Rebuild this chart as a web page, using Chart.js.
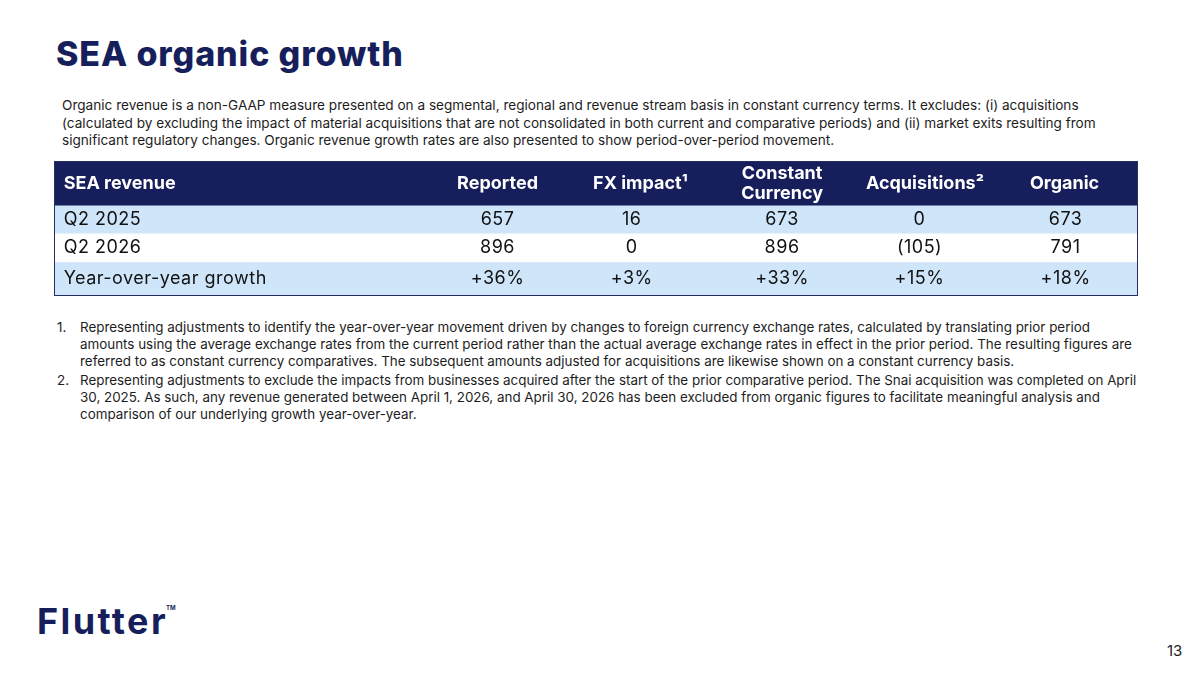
<!DOCTYPE html>
<html>
<head>
<meta charset="utf-8">
<script src="https://cdn.jsdelivr.net/npm/chart.js@4.4.1/dist/chart.umd.min.js"></script>
<style>
  html, body { margin: 0; padding: 0; background: #fff; }
  body { width: 1200px; height: 675px; position: relative; overflow: hidden; font-family: Inter, "Noto Sans", sans-serif; color: #1a1a2e; }
  #title { position: absolute; left: 56px; top: 33px; font-size: 34px; font-weight: 800; color: #161f5b; letter-spacing: 0.9px; }
  #intro { position: absolute; left: 62px; top: 97px; font-size: 13.6px; line-height: 17.5px; color: #1d1d1d; white-space: nowrap; }
  #tableWrap { position: absolute; left: 54px; top: 161px; width: 1082px; height: 133px; border: 1.5px solid #262d60; }
  #notes { position: absolute; left: 57px; top: 319px; font-size: 13.4px; line-height: 17px; color: #1d1d1d; white-space: nowrap; }
  #notes .n { position: relative; padding-left: 23px; margin-bottom: 2px; }
  #notes .n span { position: absolute; left: 0; }
  #logo { position: absolute; left: 37px; top: 599px; font-size: 36px; font-weight: 700; color: #161f5b; letter-spacing: 2.4px; }
  #logo sup { font-size: 6px; vertical-align: 24px; margin-left: -2px; letter-spacing: 0; }
  #page { position: absolute; left: 1167px; top: 641px; font-size: 15px; color: #1d1d1d; }
</style>
</head>
<body>
<div id="title">SEA organic growth</div>
<div id="intro">
Organic revenue is a non-GAAP measure presented on a segmental, regional and revenue stream basis in constant currency terms. It excludes: (i) acquisitions<br>
(calculated by excluding the impact of material acquisitions that are not consolidated in both current and comparative periods) and (ii) market exits resulting from<br>
significant regulatory changes. Organic revenue growth rates are also presented to show period-over-period movement.
</div>

<div id="tableWrap"><canvas id="tableChart"></canvas></div>

<div id="notes">
  <div class="n"><span>1.</span>Representing adjustments to identify the year-over-year movement driven by changes to foreign currency exchange rates, calculated by translating prior period<br>amounts using the average exchange rates from the current period rather than the actual average exchange rates in effect in the prior period. The resulting figures are<br>referred to as constant currency comparatives. The subsequent amounts adjusted for acquisitions are likewise shown on a constant currency basis.</div>
  <div class="n"><span>2.</span>Representing adjustments to exclude the impacts from businesses acquired after the start of the prior comparative period. The Snai acquisition was completed on April<br>30, 2025. As such, any revenue generated between April 1, 2026, and April 30, 2026 has been excluded from organic figures to facilitate meaningful analysis and<br>comparison of our underlying growth year-over-year.</div>
</div>

<div id="logo">Flutter<sup>TM</sup></div>
<div id="page">13</div>

<script>
// Tablo verileri
const headerLabel = 'SEA revenue';
const columns = ['Reported', 'FX impact¹', 'Constant\nCurrency', 'Acquisitions²', 'Organic'];
const rowLabels = ['Q2 2025', 'Q2 2026', 'Year-over-year growth'];
const reported = [657, 896];
const fxImpact = [16, 0];
const constantCurrency = [673, 896];
const acquisitions = [0, -105];
const organic = [673, 791];
const growthPct = [36, 3, 33, 15, 18];

// Yerleşim (satır sınırları ve sütun merkezleri, tablo genişliğine oranla)
const rowEdges = [0, 1.49, 2.46, 3.46, 4.6];
const rowColors = ['#161f5b', '#cfe5fa', '#ffffff', '#cfe5fa'];
const valueCenters = [0.409, 0.533, 0.672, 0.799, 0.934];
const headerCenters = [0.409, 0.541, 0.672, 0.804, 0.933];
const labelLeft = 0.008;

const fmt = (v) => (v < 0 ? '(' + Math.abs(v) + ')' : String(v));
const cellRows = [
  [reported[0], fxImpact[0], constantCurrency[0], acquisitions[0], organic[0]].map(fmt),
  [reported[1], fxImpact[1], constantCurrency[1], acquisitions[1], organic[1]].map(fmt),
  growthPct.map((v) => '+' + v + '%')
];

// Satır bantları: her satır için tam genişlikte yüzen bar
const bandSets = rowColors.map((c, i) => ({
  data: [[rowEdges[i], rowEdges[i + 1]]],
  backgroundColor: c,
  borderWidth: 0,
  barPercentage: 1,
  categoryPercentage: 1,
  grouped: false
}));

// Hücre metinleri
const cellText = {
  id: 'cellText',
  afterDatasetsDraw(chart) {
    const { ctx, scales } = chart;
    const xt = scales.xt, y = scales.y;
    const mid = (i) => y.getPixelForValue((rowEdges[i] + rowEdges[i + 1]) / 2);
    ctx.save();
    ctx.textBaseline = 'middle';

    // Başlık satırı
    ctx.fillStyle = '#ffffff';
    ctx.font = '700 18px Inter, "Noto Sans", sans-serif';
    ctx.letterSpacing = '0px';
    ctx.textAlign = 'left';
    ctx.fillText(headerLabel, xt.getPixelForValue(labelLeft), mid(0));
    ctx.textAlign = 'center';
    columns.forEach((c, j) => {
      const lines = c.split('\n');
      const x = xt.getPixelForValue(headerCenters[j]);
      lines.forEach((ln, k) => {
        ctx.fillText(ln, x, mid(0) + (k - (lines.length - 1) / 2) * 20);
      });
    });

    // Veri satırları
    ctx.fillStyle = '#111111';
    ctx.font = '400 18px Inter, "Noto Sans", sans-serif';
    ctx.letterSpacing = '0.5px';
    rowLabels.forEach((lab, r) => {
      const yy = mid(r + 1);
      ctx.textAlign = 'left';
      ctx.fillText(lab, xt.getPixelForValue(labelLeft), yy);
      ctx.textAlign = 'center';
      cellRows[r].forEach((v, j) => {
        ctx.fillText(v, xt.getPixelForValue(valueCenters[j]), yy);
      });
    });
    ctx.restore();
  }
};

new Chart(document.getElementById('tableChart').getContext('2d'), {
  type: 'bar',
  data: { labels: ['table'], datasets: bandSets },
  options: {
    responsive: true,
    maintainAspectRatio: false,
    animation: false,
    layout: { padding: 0 },
    plugins: { legend: { display: false }, tooltip: { enabled: false } },
    scales: {
      x: { display: false },
      xt: { type: 'linear', min: 0, max: 1, offset: false, display: false },
      y: { type: 'linear', min: rowEdges[0], max: rowEdges[rowEdges.length - 1], reverse: true, display: false }
    }
  },
  plugins: [cellText]
});
</script>
</body>
</html>
